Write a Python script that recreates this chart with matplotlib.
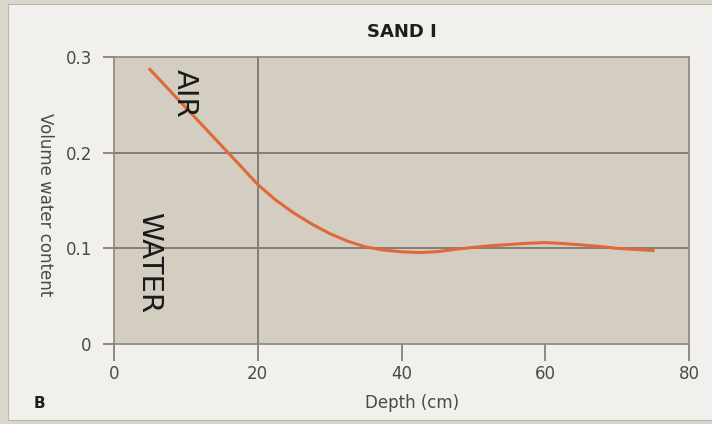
import matplotlib
matplotlib.use('Agg')
import matplotlib.pyplot as plt
from matplotlib.patches import Rectangle

# depth (cm) and volume water content
depth = [5, 7.5, 10, 12.5, 15, 17.5, 20, 22.5, 25, 27.5, 30, 32.5, 35, 37.5,
         40, 42.5, 45, 47.5, 50, 52.5, 55, 57.5, 60, 62.5, 65, 67.5, 70, 72.5, 75]
water = [0.287, 0.267, 0.247, 0.227, 0.207, 0.187, 0.1667, 0.1505, 0.137, 0.1255,
         0.1155, 0.1075, 0.1015, 0.0982, 0.0964, 0.0956, 0.0965, 0.099, 0.101,
         0.1028, 0.104, 0.1053, 0.106, 0.105, 0.1036, 0.102, 0.100, 0.0988, 0.0977]
xticks = [0, 20, 40, 60, 80]
yticks = [0, 0.1, 0.2, 0.3]
yticklabels = ['0', '0.1', '0.2', '0.3']

fig = plt.figure(figsize=(7.12, 4.24), dpi=100)
fig.patch.set_facecolor('#dcd7cd')
# off-white panel inside the scanned border
fig.patches.append(Rectangle((8/712, 4/424), 1, 1 - 8/424, transform=fig.transFigure,
                             facecolor='#f1f0ec', edgecolor='#b9b5ae', lw=0.8, zorder=-10))

ax = fig.add_axes([114/712, 1 - 344/424, 575/712, 287/424])
ax.set_facecolor('#d4cdc2')
ax.set_xlim(0, 80)
ax.set_ylim(0, 0.3)

# grid: only horizontal lines at 0.1, 0.2 and a vertical one at 20
for yv in [0.1, 0.2]:
    ax.axhline(yv, color='#7d7870', lw=1.3, zorder=1)
ax.axvline(20, color='#7d7870', lw=1.3, zorder=1)

ax.plot(depth, water, color='#e0693a', lw=2.2, zorder=3)

for s in ax.spines.values():
    s.set_color('#8a857e')
    s.set_linewidth(1.2)

ax.set_xticks(xticks)
ax.set_yticks(yticks)
ax.set_yticklabels(yticklabels)
ax.tick_params(axis='both', colors='#7d7870', width=1.2, labelcolor='#4a4a4a',
               labelsize=12)
ax.tick_params(axis='x', length=12, pad=3)
ax.tick_params(axis='y', length=8, pad=8)

ax.text(9.9, 0.262, 'AIR', rotation=-90, fontsize=21, color='#1a1a1a',
        ha='center', va='center')
ax.text(4.9, 0.0855, 'WATER', rotation=-90, fontsize=21, color='#1a1a1a',
        ha='center', va='center')

fig.text(402/712, 1 - 32/424, 'SAND I', fontsize=13, fontweight='bold',
         color='#1e1e1e', ha='center', va='center')
fig.text(45/712, 1 - 205/424, 'Volume water content', rotation=-90, fontsize=12,
         color='#4a4a4a', ha='center', va='center')
fig.text(412/712, 1 - 403/424, 'Depth (cm)', fontsize=12, color='#4a4a4a',
         ha='center', va='center')
fig.text(39/712, 1 - 403/424, 'B', fontsize=11, fontweight='bold', color='#1e1e1e',
         ha='center', va='center')

fig.savefig('out.png', dpi=100, facecolor=fig.get_facecolor())
